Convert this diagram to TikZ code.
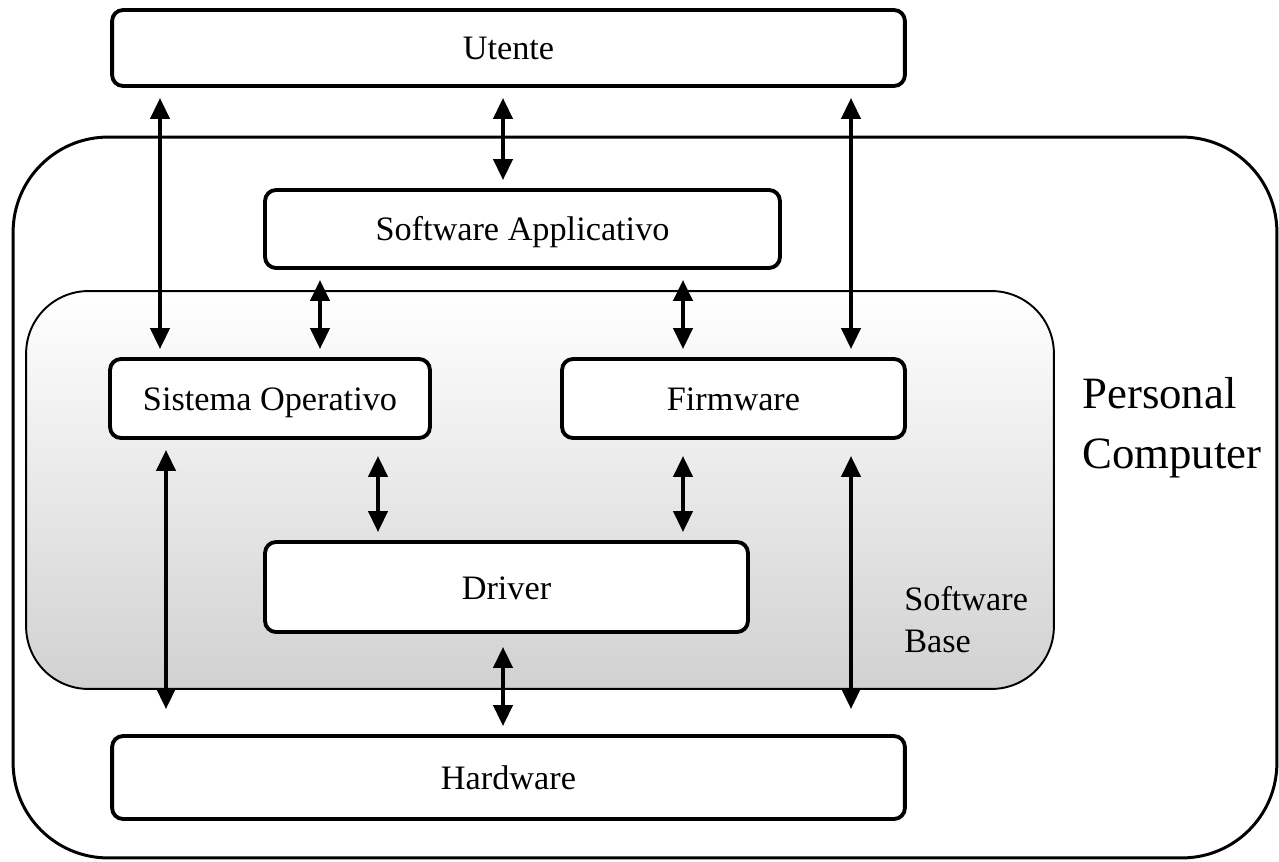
\documentclass[tikz,border=0pt]{standalone}
\usepackage{fontspec}
\setmainfont{Liberation Serif}
\usetikzlibrary{arrows.meta}

\begin{document}
\begin{tikzpicture}[x = 0.02cm, y = -0.02cm,
						box/.style = {draw, line width = 2.2pt, rounded corners = 0.22cm, fill = white,
							inner sep = 0pt, text height = 0.48cm, text depth = 0pt,
							font = \fontsize{19.5}{23}\selectfont},
						link/.style = {{Triangle[width = 0.38cm, length = 0.42cm]}-{Triangle[width = 0.38cm, length = 0.42cm]},
							line width = 2.3pt, shorten <= 0.2cm, shorten >= 0.16cm},
						]
	
		\useasboundingbox (0, 0) rectangle (1279, 862);
		
		% Personal computer frame
		\node[draw, line width = 1.7pt, rounded corners = 1.9cm,
			minimum width = 25.28cm, minimum height = 14.42cm] (pc) at (645, 497.5) {};
		
		% Software base area
		\node[draw, line width = 1.1pt, rounded corners = 1.25cm,
			top color = white, bottom color = black!18,
			minimum width = 20.56cm, minimum height = 7.96cm] (base) at (540, 490) {};
		
		% Boxes
		\node[box, minimum width = 15.86cm, minimum height = 1.52cm] (ute) at (508.5, 48) {Utente};
		\node[box, minimum width = 10.3cm, minimum height = 1.56cm] (app) at (522.5, 229) {Software Applicativo};
		\node[box, minimum width = 6.4cm, minimum height = 1.58cm] (so) at (270, 398.5) {Sistema Operativo};
		\node[box, minimum width = 6.86cm, minimum height = 1.58cm] (fw) at (733.5, 398.5) {Firmware};
		\node[box, minimum width = 9.66cm, minimum height = 1.8cm] (drv) at (506.5, 587) {Driver};
		\node[box, minimum width = 15.86cm, minimum height = 1.66cm] (hw) at (508.5, 777.5) {Hardware};
		
		% Labels
		\node[anchor = west, align = left, inner sep = 0pt,
			font = \fontsize{25.5}{34}\selectfont] (pclabel) at (1082, 428) {Personal\\Computer};
		\node[anchor = west, align = left, inner sep = 0pt,
			font = \fontsize{19.5}{24}\selectfont] (baselabel) at (904, 620) {Software\\Base};
		
		% Arrow columns
		\coordinate (xa) at (160, 0);
		\coordinate (xb) at (503, 0);
		\coordinate (xc) at (851, 0);
		\coordinate (xd) at (320, 0);
		\coordinate (xe) at (683, 0);
		\coordinate (xf) at (166, 0);
		\coordinate (xg) at (378, 0);
		
		% Arrows
		\draw[link] (ute.south -| xa) -- (so.north -| xa);
		\draw[link] (ute.south -| xb) -- (app.north -| xb);
		\draw[link] (ute.south -| xc) -- (fw.north -| xc);
		\draw[link] (app.south -| xd) -- (so.north -| xd);
		\draw[link] (app.south -| xe) -- (fw.north -| xe);
		\draw[link, shorten >= 0.5cm] (so.south -| xf) -- (hw.north -| xf);
		\draw[link, shorten <= 0.32cm] (so.south -| xg) -- (drv.north -| xg);
		\draw[link, shorten <= 0.32cm] (fw.south -| xe) -- (drv.north -| xe);
		\draw[link, shorten <= 0.26cm] (drv.south -| xb) -- (hw.north -| xb);
		\draw[link, shorten <= 0.32cm, shorten >= 0.5cm] (fw.south -| xc) -- (hw.north -| xc);
		
	\end{tikzpicture}
\end{document}
